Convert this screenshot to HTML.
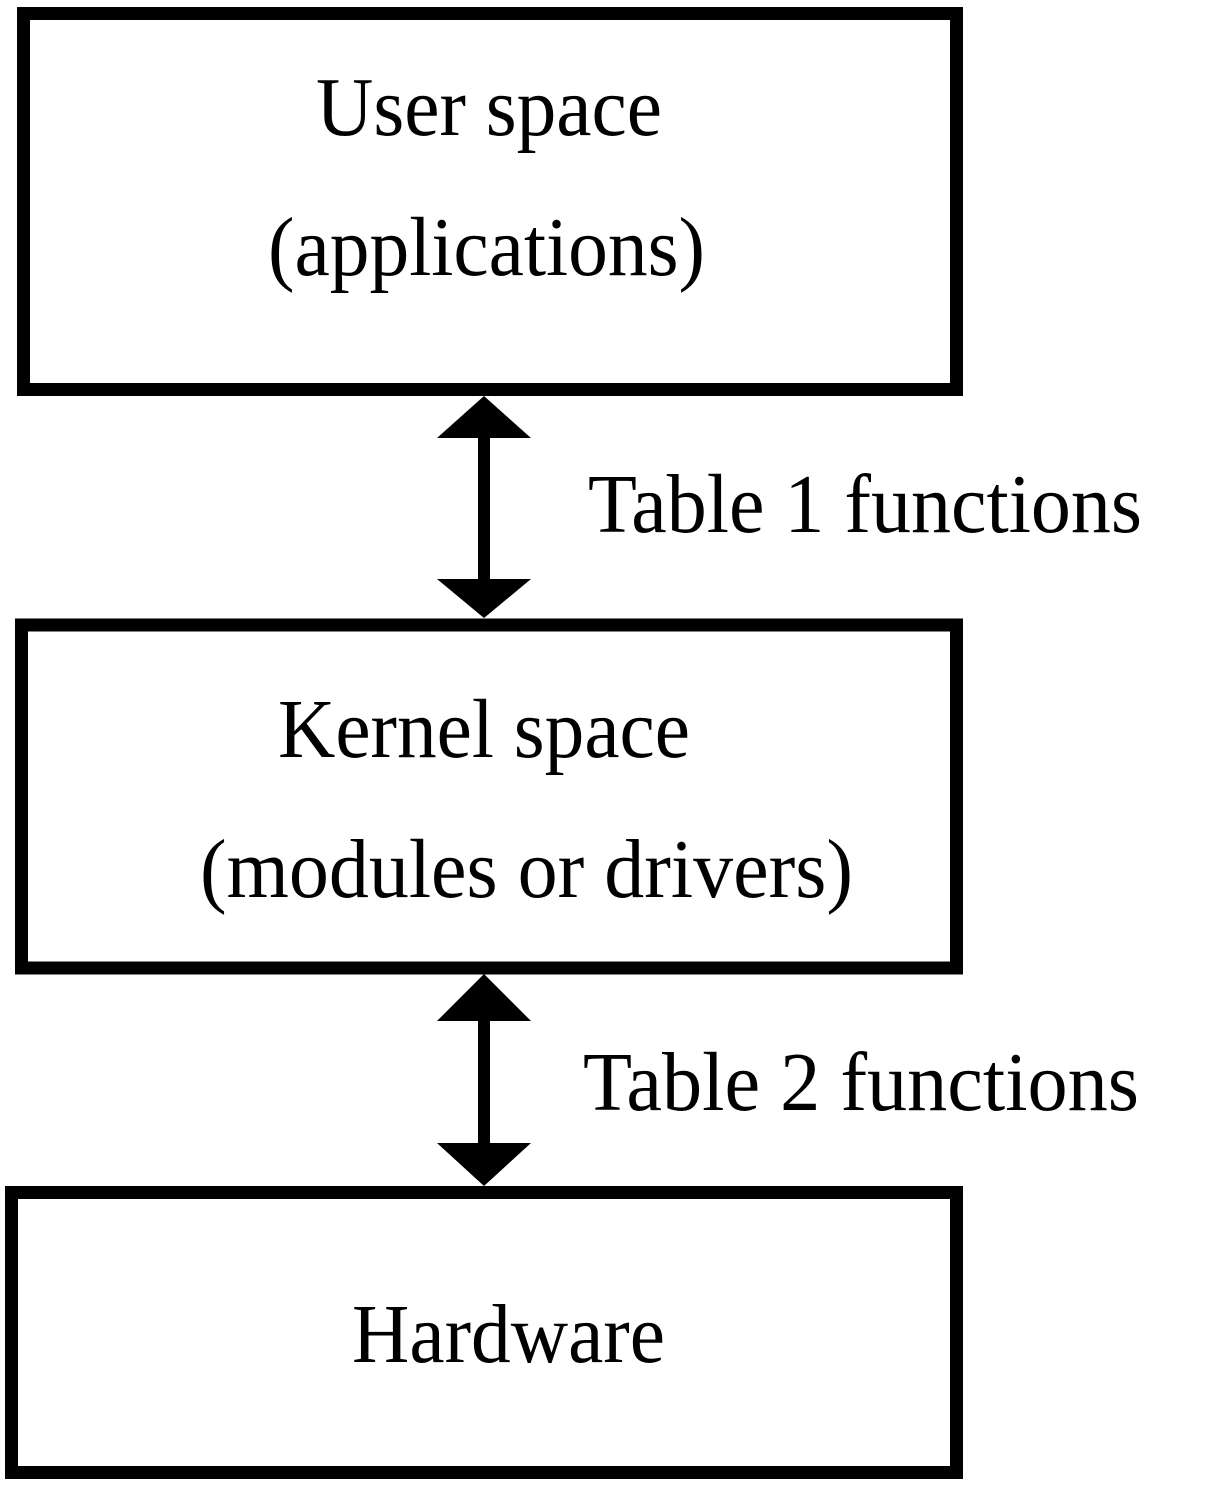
<!DOCTYPE html>
<html><head><meta charset="utf-8"><style>html,body{margin:0;padding:0;background:#fff}svg{display:block}</style></head>
<body>
<svg width="1217" height="1487" viewBox="0 0 1217 1487" xmlns="http://www.w3.org/2000/svg">
<g fill="none" stroke="#000" stroke-width="13">
<rect x="23.5" y="13.5" width="933" height="376"/>
<rect x="21.5" y="625" width="935" height="343"/>
<rect x="11.5" y="1192.5" width="945" height="280"/>
</g>
<g fill="#000">
<rect x="478" y="430" width="12" height="155"/>
<polygon points="484,396 531,438 437,438"/>
<polygon points="437,579 531,579 484,618"/>
<rect x="478" y="1015" width="12" height="135"/>
<polygon points="484,974 531,1021 437,1021"/>
<polygon points="437,1143 531,1143 484,1186"/>
</g>
<g font-family="'Liberation Serif', serif" font-size="84" fill="#000">
<text x="316" y="135" textLength="346" lengthAdjust="spacingAndGlyphs">User space</text>
<text x="268" y="275" textLength="437" lengthAdjust="spacingAndGlyphs">(applications)</text>
<text x="588" y="532" textLength="554" lengthAdjust="spacingAndGlyphs">Table 1 functions</text>
<text x="278" y="757" textLength="412" lengthAdjust="spacingAndGlyphs">Kernel space</text>
<text x="200" y="897" textLength="653" lengthAdjust="spacingAndGlyphs">(modules or drivers)</text>
<text x="583" y="1110" textLength="556" lengthAdjust="spacingAndGlyphs">Table 2 functions</text>
<text x="352" y="1362" textLength="313" lengthAdjust="spacingAndGlyphs">Hardware</text>
</g>
</svg>
</body></html>
